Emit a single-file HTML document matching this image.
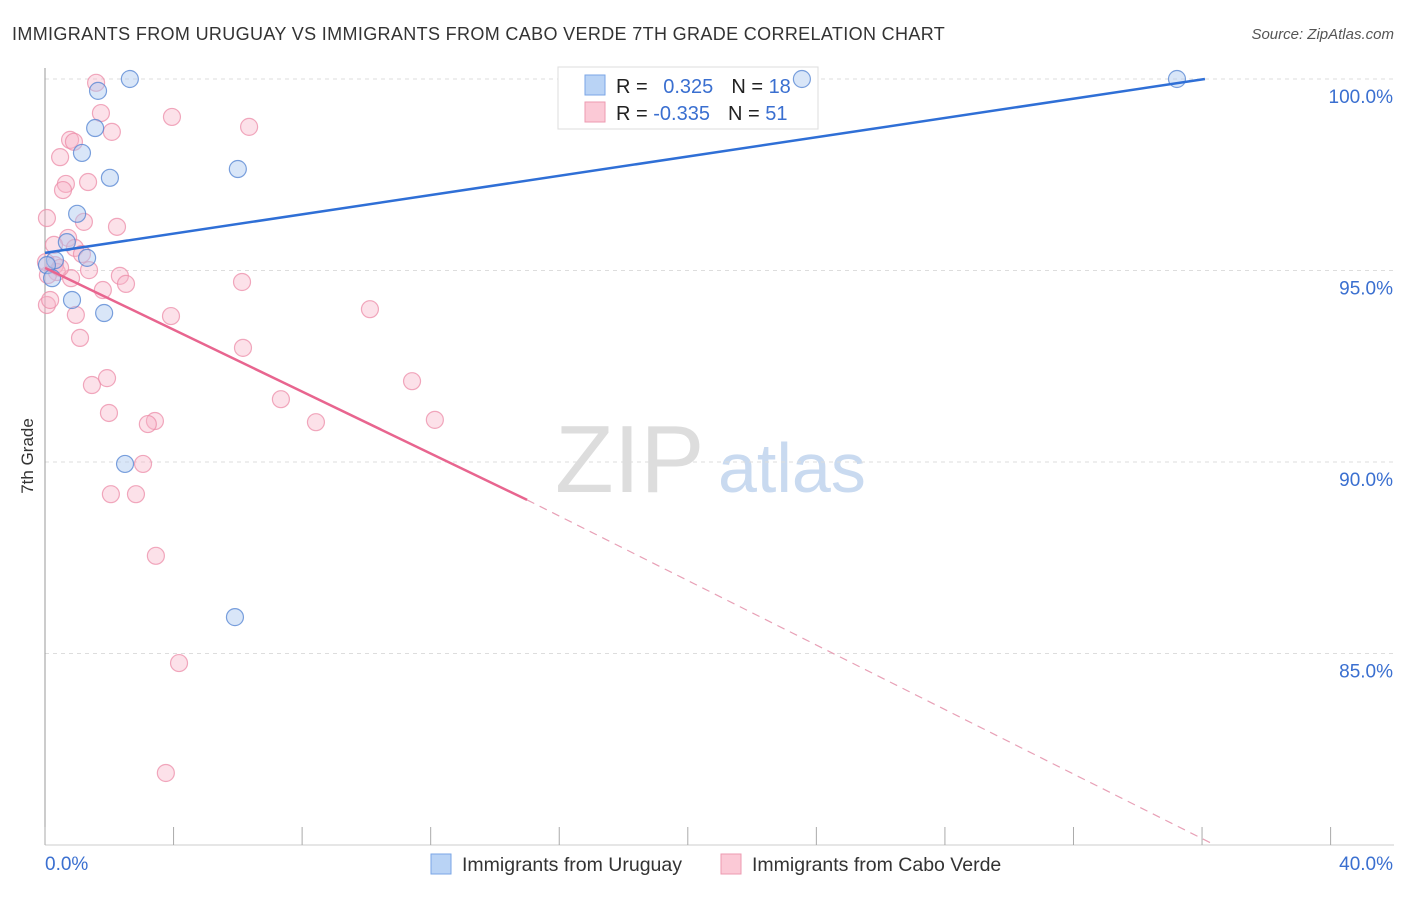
<!DOCTYPE html>
<html><head><meta charset="utf-8">
<style>
body{margin:0;background:#fff;font-family:"Liberation Sans",sans-serif;}
svg text{font-family:"Liberation Sans",sans-serif;}
</style></head>
<body>
<svg id="c" width="1406" height="892">
<text x="12" y="40" font-size="18" fill="#333" letter-spacing="0.35">IMMIGRANTS FROM URUGUAY VS IMMIGRANTS FROM CABO VERDE 7TH GRADE CORRELATION CHART</text>
<text x="1394" y="39" font-size="15" fill="#555" text-anchor="end" font-style="italic">Source: ZipAtlas.com</text>
<text x="33" y="456" font-size="17" fill="#333" text-anchor="middle" transform="rotate(-90 33 456)">7th Grade</text>
<text x="555" y="492" font-size="96" fill="#ddd" font-family="Liberation Serif">ZIP</text>
<text x="718" y="492" font-size="70" fill="#c9daf0">atlas</text>
<g id="grid"></g><g id="axes"></g>
<g>
<rect x="558" y="67" width="260" height="62" fill="#fff" stroke="#ddd"/>
<rect x="585" y="75" width="20" height="20" fill="#b9d3f5" stroke="#7aa6e6"/>
<rect x="585" y="102" width="20" height="20" fill="#fbc9d6" stroke="#ec9ab0"/>
<text x="616" y="93" font-size="20" fill="#222">R = <tspan fill="#3a6fd0" dx="10">0.325</tspan><tspan dx="18" fill="#222">N = </tspan><tspan fill="#3a6fd0">18</tspan></text>
<text x="616" y="120" font-size="20" fill="#222">R = <tspan fill="#3a6fd0">-0.335</tspan><tspan dx="18" fill="#222">N = </tspan><tspan fill="#3a6fd0">51</tspan></text>
</g>
<g id="pts"></g><g id="lines"></g>
<g>
<rect x="431" y="854" width="20" height="20" fill="#b9d3f5" stroke="#7aa6e6"/>
<text x="462" y="871" font-size="19.5" fill="#333">Immigrants from Uruguay</text>
<rect x="721" y="854" width="20" height="20" fill="#fbc9d6" stroke="#ec9ab0"/>
<text x="752" y="871" font-size="19.5" fill="#333">Immigrants from Cabo Verde</text>
</g>
</svg>
<script>
const yTicks=[100,95,90,85];
const yTickLabels=["100.0%","95.0%","90.0%","85.0%"];
const xTicks=[0,4,8,12,16,20,24,28,32,36,40];
const blueX=[2.64,1.65,1.56,1.15,6.0,2.02,1.0,0.68,1.31,0.31,0.06,0.22,0.84,1.84,2.49,5.91,23.55,35.22];
const blueY=[100,99.69,98.72,98.07,97.65,97.42,96.48,95.74,95.33,95.27,95.14,94.8,94.23,93.89,89.95,85.95,100,100];
const pinkX=[1.59,1.74,3.95,6.35,2.08,0.78,0.9,0.47,1.34,0.65,0.56,0.06,1.21,2.24,0.72,0.28,0.93,1.15,0.31,1.37,0.37,0.09,0.81,2.33,2.52,6.13,1.8,0.06,0.96,3.92,10.11,1.09,6.16,1.93,1.46,11.42,7.34,1.99,3.42,3.2,8.43,12.13,3.05,2.05,2.83,3.45,4.17,3.76,0.03,0.47,0.16];
const pinkY=[99.9,99.11,99.01,98.75,98.62,98.41,98.36,97.96,97.31,97.26,97.1,96.37,96.27,96.14,95.85,95.67,95.59,95.43,95.14,95.01,94.96,94.88,94.8,94.86,94.65,94.7,94.49,94.1,93.84,93.81,93.99,93.24,92.98,92.19,92.01,92.11,91.64,91.28,91.07,90.99,91.04,91.1,89.95,89.16,89.16,87.55,84.75,81.88,95.22,95.07,94.23];
const blueTrend=[0,95.46,36.09,100];
const pinkTrend=[0,95.07,15.0,89.01,36.4,80.0];
const X=v=>45+v*32.14, Y=v=>79+(100-v)*38.3;
const NS="http://www.w3.org/2000/svg";
function mk(t,a,p){const e=document.createElementNS(NS,t);for(const k in a)e.setAttribute(k,a[k]);p.appendChild(e);return e;}
const grid=document.getElementById('grid'),axes=document.getElementById('axes'),pts=document.getElementById('pts'),lines=document.getElementById('lines');
yTicks.forEach((t,i)=>{
 const l=mk('line',{x1:45,x2:1394,y1:Y(t),y2:Y(t),stroke:'#ddd','stroke-dasharray':'4 4'},grid);
 
 
 const tx=mk('text',{x:1393,y:Y(t)+24,'font-size':19,fill:'#3a6fd0','text-anchor':'end'},axes);
 tx.textContent=yTickLabels[i];
 
 
});
const ya=mk('line',{x1:45,x2:45,y1:68,y2:845,stroke:'#999'},axes);


const xa=mk('line',{x1:45,x2:1394,y1:845,y2:845,stroke:'#ccc'},axes);


xTicks.forEach(t=>{
 const l=mk('line',{x1:X(t),x2:X(t),y1:827,y2:845,stroke:'#aaa'},axes);
 
 
});
const x0=mk('text',{x:45,y:870,'font-size':19,fill:'#3a6fd0'},axes);x0.textContent='0.0%';


const x1=mk('text',{x:1393,y:870,'font-size':19,fill:'#3a6fd0','text-anchor':'end'},axes);x1.textContent='40.0%';


pinkX.forEach((v,i)=>{
 const c=mk('circle',{cx:X(v),cy:Y(pinkY[i]),r:8.5,fill:'rgba(248,180,200,0.4)',stroke:'rgba(236,140,168,0.75)','stroke-width':1.2},pts);
 
 
});
blueX.forEach((v,i)=>{
 const c=mk('circle',{cx:X(v),cy:Y(blueY[i]),r:8.5,fill:'rgba(170,200,240,0.45)',stroke:'rgba(80,130,210,0.75)','stroke-width':1.2},pts);
 
 
});
const bl=mk('line',{x1:X(blueTrend[0]),y1:Y(blueTrend[1]),x2:X(blueTrend[2]),y2:Y(blueTrend[3]),stroke:'#2f6fd6','stroke-width':2.5},lines);


const pl=mk('line',{x1:X(pinkTrend[0]),y1:Y(pinkTrend[1]),x2:X(pinkTrend[2]),y2:Y(pinkTrend[3]),stroke:'#e8658f','stroke-width':2.5},lines);


const pd=mk('line',{x1:X(pinkTrend[2]),y1:Y(pinkTrend[3]),x2:X(pinkTrend[4]),y2:Y(pinkTrend[5]),stroke:'#e8a0b6','stroke-width':1.2,'stroke-dasharray':'8 6'},lines);


</script>
</body></html>
